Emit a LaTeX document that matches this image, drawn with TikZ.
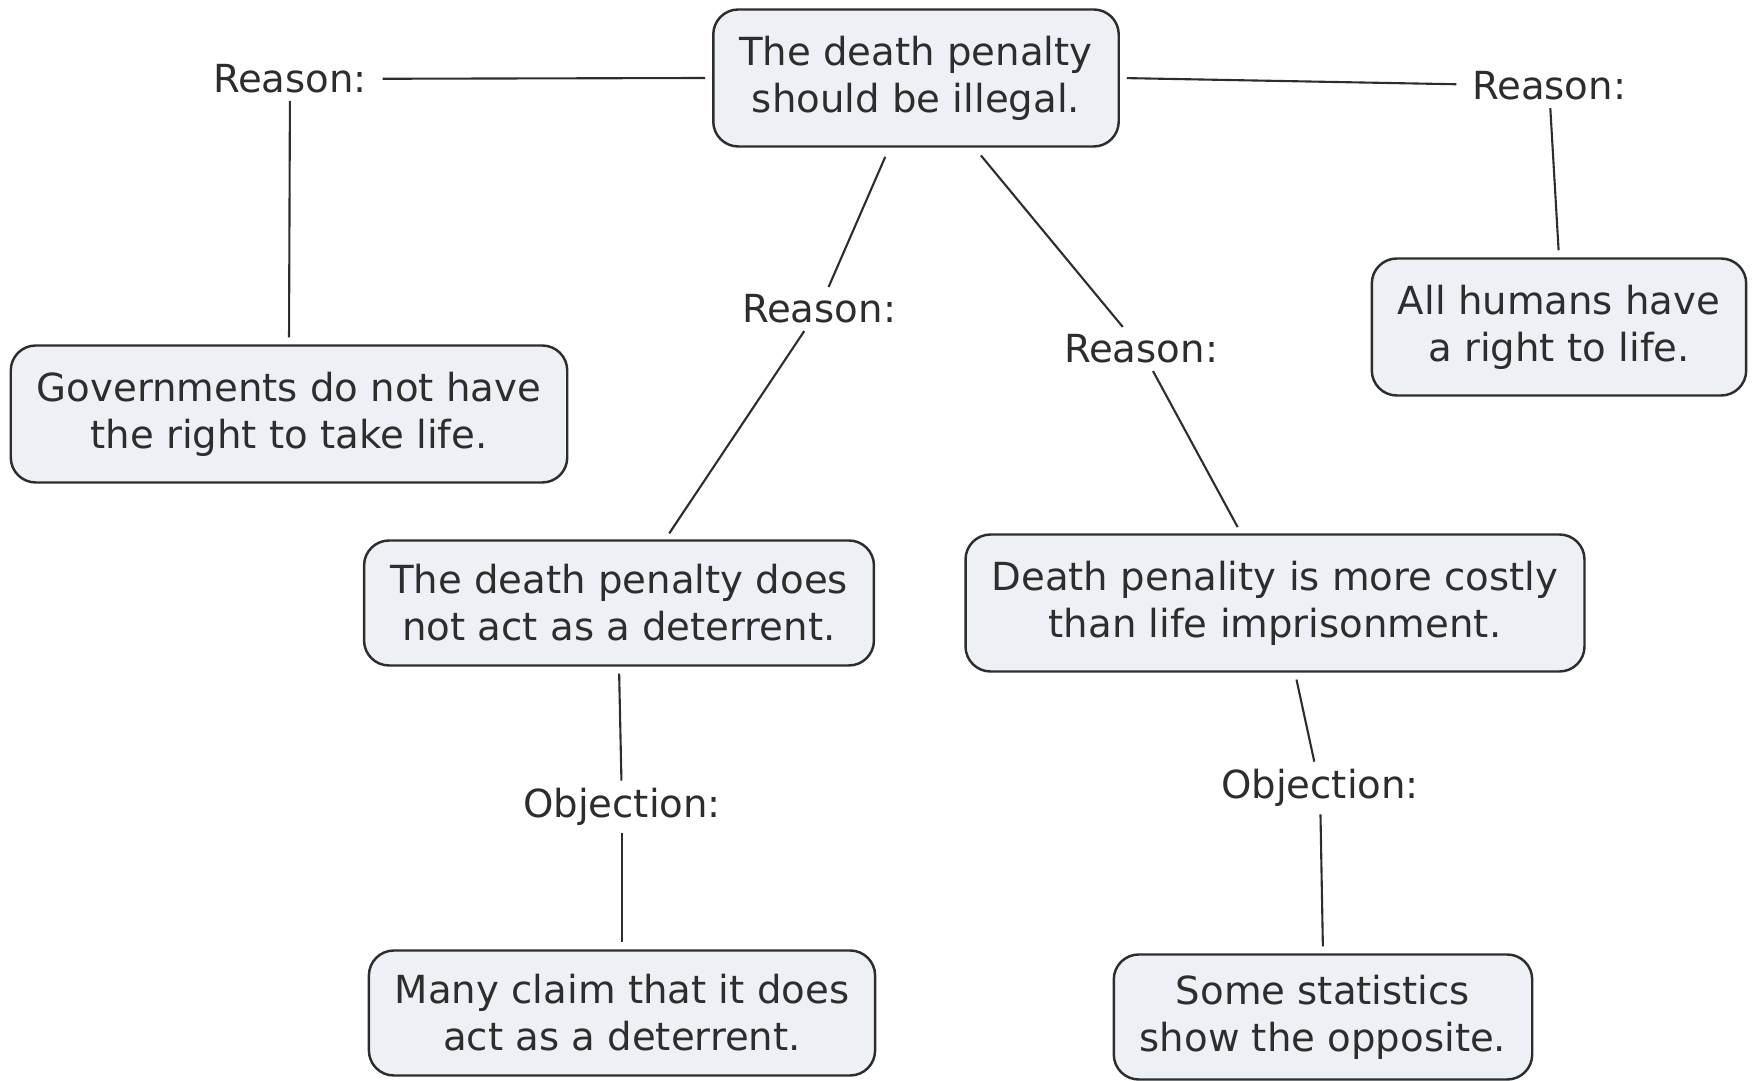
\documentclass[tikz,border=0pt]{standalone}
\usepackage{fontspec}
\setmainfont{DejaVu Sans}
\usetikzlibrary{positioning}

\definecolor{boxfill}{RGB}{237,241,245}
\definecolor{ink}{RGB}{45,45,45}

\begin{document}
\begin{tikzpicture}
            \tikzstyle{claim}=[rectangle,rounded corners=0.25cm,draw=ink,line width=0.7pt,fill=boxfill,
                text=ink,align=center,font=\fontsize{11}{13.4}\selectfont,
                inner xsep=0.26cm,minimum height=1.37cm]
            \tikzstyle{short}=[minimum height=1.25cm]               % one-line-deep boxes
            \tikzstyle{link}=[text=ink,font=\fontsize{11}{13.4}\selectfont,inner xsep=0.15cm,inner ysep=0.07cm]

            \tikzstyle{every edge}=[draw=ink,line width=0.6pt]
            \tikzstyle{gap}=[shorten >=0.07cm]                      % space before a box

            \useasboundingbox (0,0) rectangle (17.52,-10.81);

            \node[claim] (main) at (9.16,-0.78) {The death penalty\\should be illegal.};
            \node[claim] (gov) at (2.89,-4.14) {Governments do not have\\the right to take life.};
            \node[claim] (humans) at (15.59,-3.27) {All humans have\\a right to life.};
            \node[claim,short] (det) at (6.19,-6.03) {The death penalty does\\not act as a deterrent.};
            \node[claim] (cost) at (12.75,-6.03) {Death penality is more costly\\than life imprisonment.};
            \node[claim,short] (many) at (6.22,-10.13) {Many claim that it does\\act as a deterrent.};
            \node[claim,short] (stats) at (13.23,-10.17) {Some statistics\\show the opposite.};

            \node[link] (r1) at (2.90,-0.79) {Reason:};
            \node[link] (r2) at (15.49,-0.86) {Reason:};
            \node[link] (r3) at (8.19,-3.09) {Reason:};
            \node[link] (r4) at (11.41,-3.49) {Reason:};
            \node[link] (o1) at (6.22,-8.07) {Objection:};
            \node[link] (o2) at (13.20,-7.88) {Objection:};

            \path (r1) edge[gap] (main.west);
            \path (r1) edge[gap] (gov.north);
            \path (r2) edge[gap] (main.east);
            \path (r2) edge[gap] (humans.north);
            \path (r3) edge[shorten >=0.1cm] (main.-111);
            \path (r3) edge[gap] (det.54);
            \path (r4) edge[shorten >=0.1cm] (main.-50);
            \path (r4) edge[gap] (cost.116);
            \path (o1) edge[gap] (det.south);
            \path (o1) edge[gap] (many.north);
            \path (o2) edge[gap] (cost.-74);
            \path (o2) edge[gap] (stats.north);
        \end{tikzpicture}
\end{document}
